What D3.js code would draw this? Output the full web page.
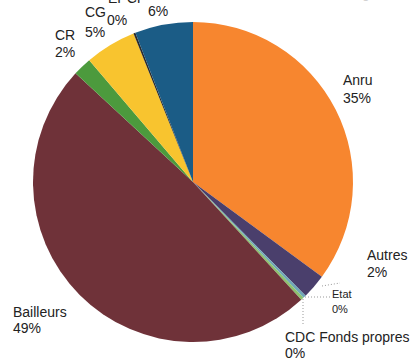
<!DOCTYPE html>
<html>
<head>
<meta charset="utf-8">
<script src="https://cdn.jsdelivr.net/npm/d3@7"></script>
<style>
  body { margin: 0; background: #fff; }
  text { font-family: "Liberation Sans", Arial, sans-serif; fill: #222; }
</style>
</head>
<body>
<div id="chart"></div>
<script>
// slices, clockwise from 12 o'clock
var names = ["Anru", "Autres", "Etat", "CDC Fonds propres", "Bailleurs", "CR", "CG", "Autre0", "EPCI"];
var values = [35.3, 2.5, 0.3, 0.3, 49.0, 1.9, 5.2, 0.2, 5.9];
var pctLabels = ["35%", "2%", "0%", "0%", "49%", "2%", "5%", "0%", "6%"];
var colors = ["#f7862f", "#4a3f6c", "#6fa8b8", "#8dc26f", "#6f3239", "#4c9a3d", "#f8c42f", "#2b2b2b", "#1b5c86"];

var width = 420, height = 360;
var cx = 193, cy = 182, radius = 160;

var svg = d3.select("#chart").append("svg")
    .attr("width", width)
    .attr("height", height);

// title is cut off at the top of the scan, only descenders show
svg.append("text")
    .attr("x", 240)
    .attr("y", -2)
    .style("font-size", "13px")
    .style("fill", "#ccc")
    .text("Plan de financement global de l'opération");

var pie = d3.pie().sort(null).value(function(d) { return d; });
var arc = d3.arc().innerRadius(0).outerRadius(radius);

var g = svg.append("g")
    .attr("transform", "translate(" + cx + "," + cy + ")");

g.selectAll("path")
    .data(pie(values))
    .enter()
    .append("path")
    .attr("d", arc)
    .attr("fill", function(d, i) { return colors[i]; });

//leader lines for the tiny slices
var leaders = [
  [[305, 297], [330, 297]],
  [[303, 299], [303, 325]],
  [[322, 286], [340, 283]]
];
svg.selectAll("line.leader")
    .data(leaders)
    .enter()
    .append("line")
    .attr("class", "leader")
    .attr("x1", function(d) { return d[0][0]; })
    .attr("y1", function(d) { return d[0][1]; })
    .attr("x2", function(d) { return d[1][0]; })
    .attr("y2", function(d) { return d[1][1]; })
    .attr("stroke", "#999")
    .attr("stroke-width", 1)
    .attr("stroke-dasharray", "1,2");

//label placement (name line, value line)
var labelPos = {
  "Anru":              {x: 343, y: 85,  dy: 18, size: 14},
  "Autres":            {x: 367, y: 260, dy: 17, size: 14},
  "Etat":              {x: 332, y: 298, dy: 15, size: 11},
  "CDC Fonds propres": {x: 285, y: 342, dy: 16, size: 14},
  "Bailleurs":         {x: 13,  y: 317, dy: 16, size: 14},
  "CR":                {x: 55,  y: 40,  dy: 17, size: 14},
  "CG":                {x: 85,  y: 17,  dy: 20, size: 14},
  "Autre0":            {x: 107, y: 25,  dy: 0,  size: 14, noName: true},
  "EPCI":              {x: 108, y: 3,   dy: 0,  size: 14}
};

names.forEach(function(n, i) {
  var p = labelPos[n];
  var t = svg.append("text")
      .attr("x", p.x)
      .attr("y", p.y)
      .style("font-size", p.size + "px");
  if (p.noName) {
    t.text(pctLabels[i]);
    return;
  }
  t.text(n);
  if (n == "EPCI") {
    svg.append("text")
        .attr("x", 148)
        .attr("y", 16)
        .style("font-size", p.size + "px")
        .text(pctLabels[i]);
  } else {
    svg.append("text")
        .attr("x", p.x)
        .attr("y", p.y + p.dy)
        .style("font-size", p.size + "px")
        .text(pctLabels[i]);
  }
});
</script>
</body>
</html>
